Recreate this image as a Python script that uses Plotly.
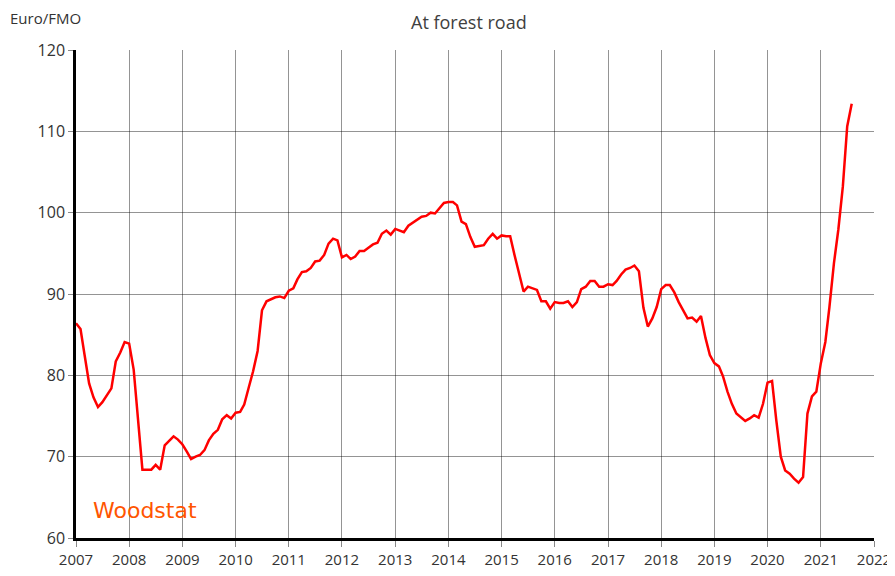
import plotly.graph_objects as go
import pandas as pd

dates = pd.date_range("2007-01-01", periods=176, freq="MS")

prices = [
    # 2007
    86.4, 85.7, 82.5, 79.0, 77.3, 76.1, 76.7, 77.6, 78.4, 81.7, 82.8, 84.1,
    # 2008
    83.9, 80.7, 74.5, 68.4, 68.4, 68.4, 69.0, 68.4, 71.4, 72.0, 72.5, 72.1,
    # 2009
    71.5, 70.6, 69.7, 70.0, 70.2, 70.8, 72.0, 72.8, 73.3, 74.6, 75.1, 74.7,
    # 2010
    75.4, 75.5, 76.4, 78.5, 80.5, 83.0, 88.0, 89.1, 89.4, 89.6, 89.7, 89.5,
    # 2011
    90.4, 90.7, 91.8, 92.7, 92.8, 93.2, 94.0, 94.1, 94.8, 96.2, 96.8, 96.6,
    # 2012
    94.5, 94.8, 94.3, 94.6, 95.3, 95.3, 95.7, 96.1, 96.3, 97.4, 97.8, 97.3,
    # 2013
    98.0, 97.8, 97.6, 98.4, 98.8, 99.1, 99.5, 99.6, 100.0, 99.9, 100.6, 101.2,
    # 2014
    101.3, 101.3, 100.9, 98.9, 98.6, 97.0, 95.8, 95.9, 96.0, 96.8, 97.4, 96.8,
    # 2015
    97.2, 97.1, 97.1, 94.7, 92.5, 90.3, 90.9, 90.7, 90.5, 89.1, 89.1, 88.2,
    # 2016
    89.0, 88.9, 88.9, 89.1, 88.4, 89.0, 90.6, 90.9, 91.6, 91.6, 90.9, 90.9,
    # 2017
    91.2, 91.1, 91.6, 92.4, 93.0, 93.2, 93.5, 92.8, 88.3, 86.0, 87.0, 88.4,
    # 2018
    90.6, 91.1, 91.1, 90.2, 89.0, 88.0, 87.0, 87.1, 86.6, 87.3, 84.6, 82.5,
    # 2019
    81.5, 81.1, 79.9, 78.0, 76.5, 75.3, 74.8, 74.4, 74.7, 75.1, 74.8, 76.5,
    # 2020
    79.1, 79.3, 74.5, 70.0, 68.3, 67.9, 67.3, 66.8, 67.5, 75.3, 77.4, 78.0,
    # 2021
    81.5, 84.1, 88.4, 93.8, 97.9, 103.2, 110.6, 113.4,
]

year_ticks = [f"{y}-01-01" for y in range(2007, 2023)]
year_labels = [str(y) for y in range(2007, 2023)]
y_ticks = [60, 70, 80, 90, 100, 110, 120]

title_text = "At forest road"
unit_text = "Euro/FMO"
brand_text = "Woodstat"

FONT = "Open Sans, sans-serif"

fig = go.Figure()
fig.add_trace(go.Scatter(
    x=dates, y=prices, mode="lines",
    line=dict(color="#ff0000", width=2.5),
    hoverinfo="x+y", showlegend=False,
))

grid = "rgba(0,0,0,0.42)"
fig.update_layout(
    width=887, height=568,
    margin=dict(l=68, r=21, t=42, b=38, autoexpand=False),
    paper_bgcolor="white", plot_bgcolor="white",
    font=dict(family=FONT, size=15, color="#333333"),
    xaxis=dict(
        type="date",
        range=["2007-01-01", "2022-01-01"],
        tickvals=year_ticks, ticktext=year_labels,
        showgrid=True, gridcolor=grid, gridwidth=1.3,
        showline=True, linecolor="black", linewidth=2.5,
        ticks="outside", ticklen=6, tickcolor="#888888",
        tickfont=dict(size=15, color="#333333"),
        zeroline=False, automargin=False,
    ),
    yaxis=dict(
        range=[60, 120],
        tickvals=y_ticks,
        showgrid=True, gridcolor=grid, gridwidth=1.3,
        showline=True, linecolor="black", linewidth=2.5,
        ticks="outside", ticklen=5, tickcolor="#888888",
        tickfont=dict(size=16, color="#333333"),
        zeroline=False, automargin=False,
    ),
    annotations=[
        dict(text=title_text, xref="paper", yref="paper",
             x=0.492, y=1.0 + 42 / 488, xanchor="center", yanchor="top",
             showarrow=False, font=dict(size=18, color="#404040", family=FONT)),
        dict(text=unit_text, xref="paper", yref="paper",
             x=-68 / 798, y=1.0 + (50 - 18) / 488, xanchor="left", yanchor="middle",
             showarrow=False, font=dict(size=15, color="#333333", family=FONT)),
        dict(text=brand_text, xref="paper", yref="paper",
             x=(91 - 76) / 798, y=(538 - 510) / 488, xanchor="left", yanchor="middle",
             showarrow=False, font=dict(size=22, color="#ff5500", family="DejaVu Sans")),
    ],
)

fig.write_html("out.html")
